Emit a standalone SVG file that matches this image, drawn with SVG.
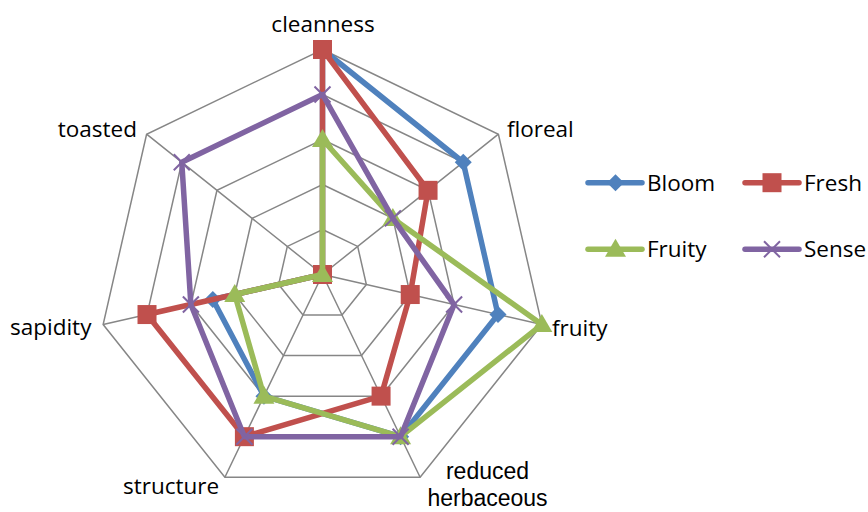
<svg xmlns="http://www.w3.org/2000/svg" width="868" height="512" viewBox="0 0 868 512">
<style>
.grid{fill:none;stroke:#868686;stroke-width:1.5}
.ser{fill:none;stroke-width:5.5;stroke-linejoin:round;stroke-linecap:round}
.lbl{font-family:"Open Sans","Liberation Sans",sans-serif;font-size:22.5px;fill:#000}
.lbl2{font-family:"Liberation Sans",Arial,sans-serif;font-size:23px;fill:#000}
.bl{stroke:#4F81BD}.rd{stroke:#C0504D}.gr{stroke:#9BBB59}.pu{stroke:#8064A2}
</style>
<defs>
<polygon id="dia" points="0,-8.5 8.5,0 0,8.5 -8.5,0" fill="#4F81BD"/>
<rect id="sq" x="-9.5" y="-9.5" width="19" height="19" fill="#C0504D"/>
<polygon id="tri" points="0,-10.5 10.5,7.5 -10.5,7.5" fill="#9BBB59"/>
<path id="xx" d="M-8,-8L8,8M-8,8L8,-8" stroke="#8064A2" stroke-width="2" fill="none"/>
</defs>
<rect width="868" height="512" fill="#fff"/>
<g id="grid">
<polygon class="grid" points="322.5,229.5 357.68,246.44 366.37,284.51 342.02,315.04 302.98,315.04 278.63,284.51 287.32,246.44"/>
<polygon class="grid" points="322.5,184.5 392.86,218.39 410.24,294.53 361.55,355.59 283.45,355.59 234.76,294.53 252.14,218.39"/>
<polygon class="grid" points="322.5,139.5 428.05,190.33 454.12,304.54 381.07,396.13 263.93,396.13 190.88,304.54 216.95,190.33"/>
<polygon class="grid" points="322.5,94.5 463.23,162.27 497.99,314.55 400.6,436.67 244.4,436.67 147.01,314.55 181.77,162.27"/>
<polygon class="grid" points="322.5,49.5 498.41,134.21 541.86,324.57 420.12,477.22 224.88,477.22 103.14,324.57 146.59,134.21"/>
<path class="grid" d="M322.5,274.5L322.5,49.5M322.5,274.5L498.41,134.21M322.5,274.5L541.86,324.57M322.5,274.5L420.12,477.22M322.5,274.5L224.88,477.22M322.5,274.5L103.14,324.57M322.5,274.5L146.59,134.21"/>
</g>
<g id="axis-labels" class="lbl">
<text x="323" y="31.5" text-anchor="middle">cleanness</text>
<text x="507" y="136.5">floreal</text>
<text x="552" y="336">fruity</text>
<text class="lbl2" x="487.5" y="478.5" text-anchor="middle">reduced</text>
<text class="lbl2" x="487.5" y="506" text-anchor="middle">herbaceous</text>
<text x="123" y="494">structure</text>
<text x="10" y="335">sapidity</text>
<text x="137" y="136.5" text-anchor="end">toasted</text>
</g>
<g id="series-bloom">
<polygon class="ser bl" points="322.5,49.5 463.23,162.27 497.99,314.55 400.6,436.67 263.93,396.13 212.82,299.53 322.5,274.5"/>
<use href="#dia" x="322.5" y="49.5"/><use href="#dia" x="463.23" y="162.27"/><use href="#dia" x="497.99" y="314.55"/><use href="#dia" x="400.6" y="436.67"/><use href="#dia" x="263.93" y="396.13"/><use href="#dia" x="212.82" y="299.53"/><use href="#dia" x="322.5" y="274.5"/>
</g>
<g id="series-fresh">
<polygon class="ser rd" points="322.5,49.5 428.05,190.33 410.24,294.53 381.07,396.13 244.4,436.67 147.01,314.55 322.5,274.5"/>
<use href="#sq" x="322.5" y="49.5"/><use href="#sq" x="428.05" y="190.33"/><use href="#sq" x="410.24" y="294.53"/><use href="#sq" x="381.07" y="396.13"/><use href="#sq" x="244.4" y="436.67"/><use href="#sq" x="147.01" y="314.55"/><use href="#sq" x="322.5" y="274.5"/>
</g>
<g id="series-fruity">
<polygon class="ser gr" points="322.5,139.5 392.86,218.39 541.86,324.57 400.6,436.67 263.93,396.13 234.76,294.53 322.5,274.5"/>
<use href="#tri" x="322.5" y="139.5"/><use href="#tri" x="392.86" y="218.39"/><use href="#tri" x="541.86" y="324.57"/><use href="#tri" x="400.6" y="436.67"/><use href="#tri" x="263.93" y="396.13"/><use href="#tri" x="234.76" y="294.53"/><use href="#tri" x="322.5" y="274.5"/>
</g>
<g id="series-sense">
<polygon class="ser pu" points="322.5,94.5 392.86,218.39 454.12,304.54 400.6,436.67 244.4,436.67 190.88,304.54 181.77,162.27"/>
<use href="#xx" x="322.5" y="94.5"/><use href="#xx" x="392.86" y="218.39"/><use href="#xx" x="454.12" y="304.54"/><use href="#xx" x="400.6" y="436.67"/><use href="#xx" x="244.4" y="436.67"/><use href="#xx" x="190.88" y="304.54"/><use href="#xx" x="181.77" y="162.27"/>
</g>
<g id="legend">
<g id="legend-bloom"><line class="ser bl" x1="588" y1="182.7" x2="642" y2="182.7"/><use href="#dia" x="615.5" y="182.7"/><text class="lbl" x="647" y="190.7">Bloom</text></g>
<g id="legend-fresh"><line class="ser rd" x1="745" y1="182.7" x2="799" y2="182.7"/><use href="#sq" x="772" y="182.7"/><text class="lbl" x="804" y="190.7">Fresh</text></g>
<g id="legend-fruity"><line class="ser gr" x1="588" y1="249.3" x2="642" y2="249.3"/><use href="#tri" x="615.5" y="249.3"/><text class="lbl" x="647" y="257.3">Fruity</text></g>
<g id="legend-sense"><line class="ser pu" x1="745" y1="249.3" x2="799" y2="249.3"/><use href="#xx" x="772" y="249.3"/><text class="lbl" x="804" y="257.3">Sense</text></g>
</g>
</svg>
